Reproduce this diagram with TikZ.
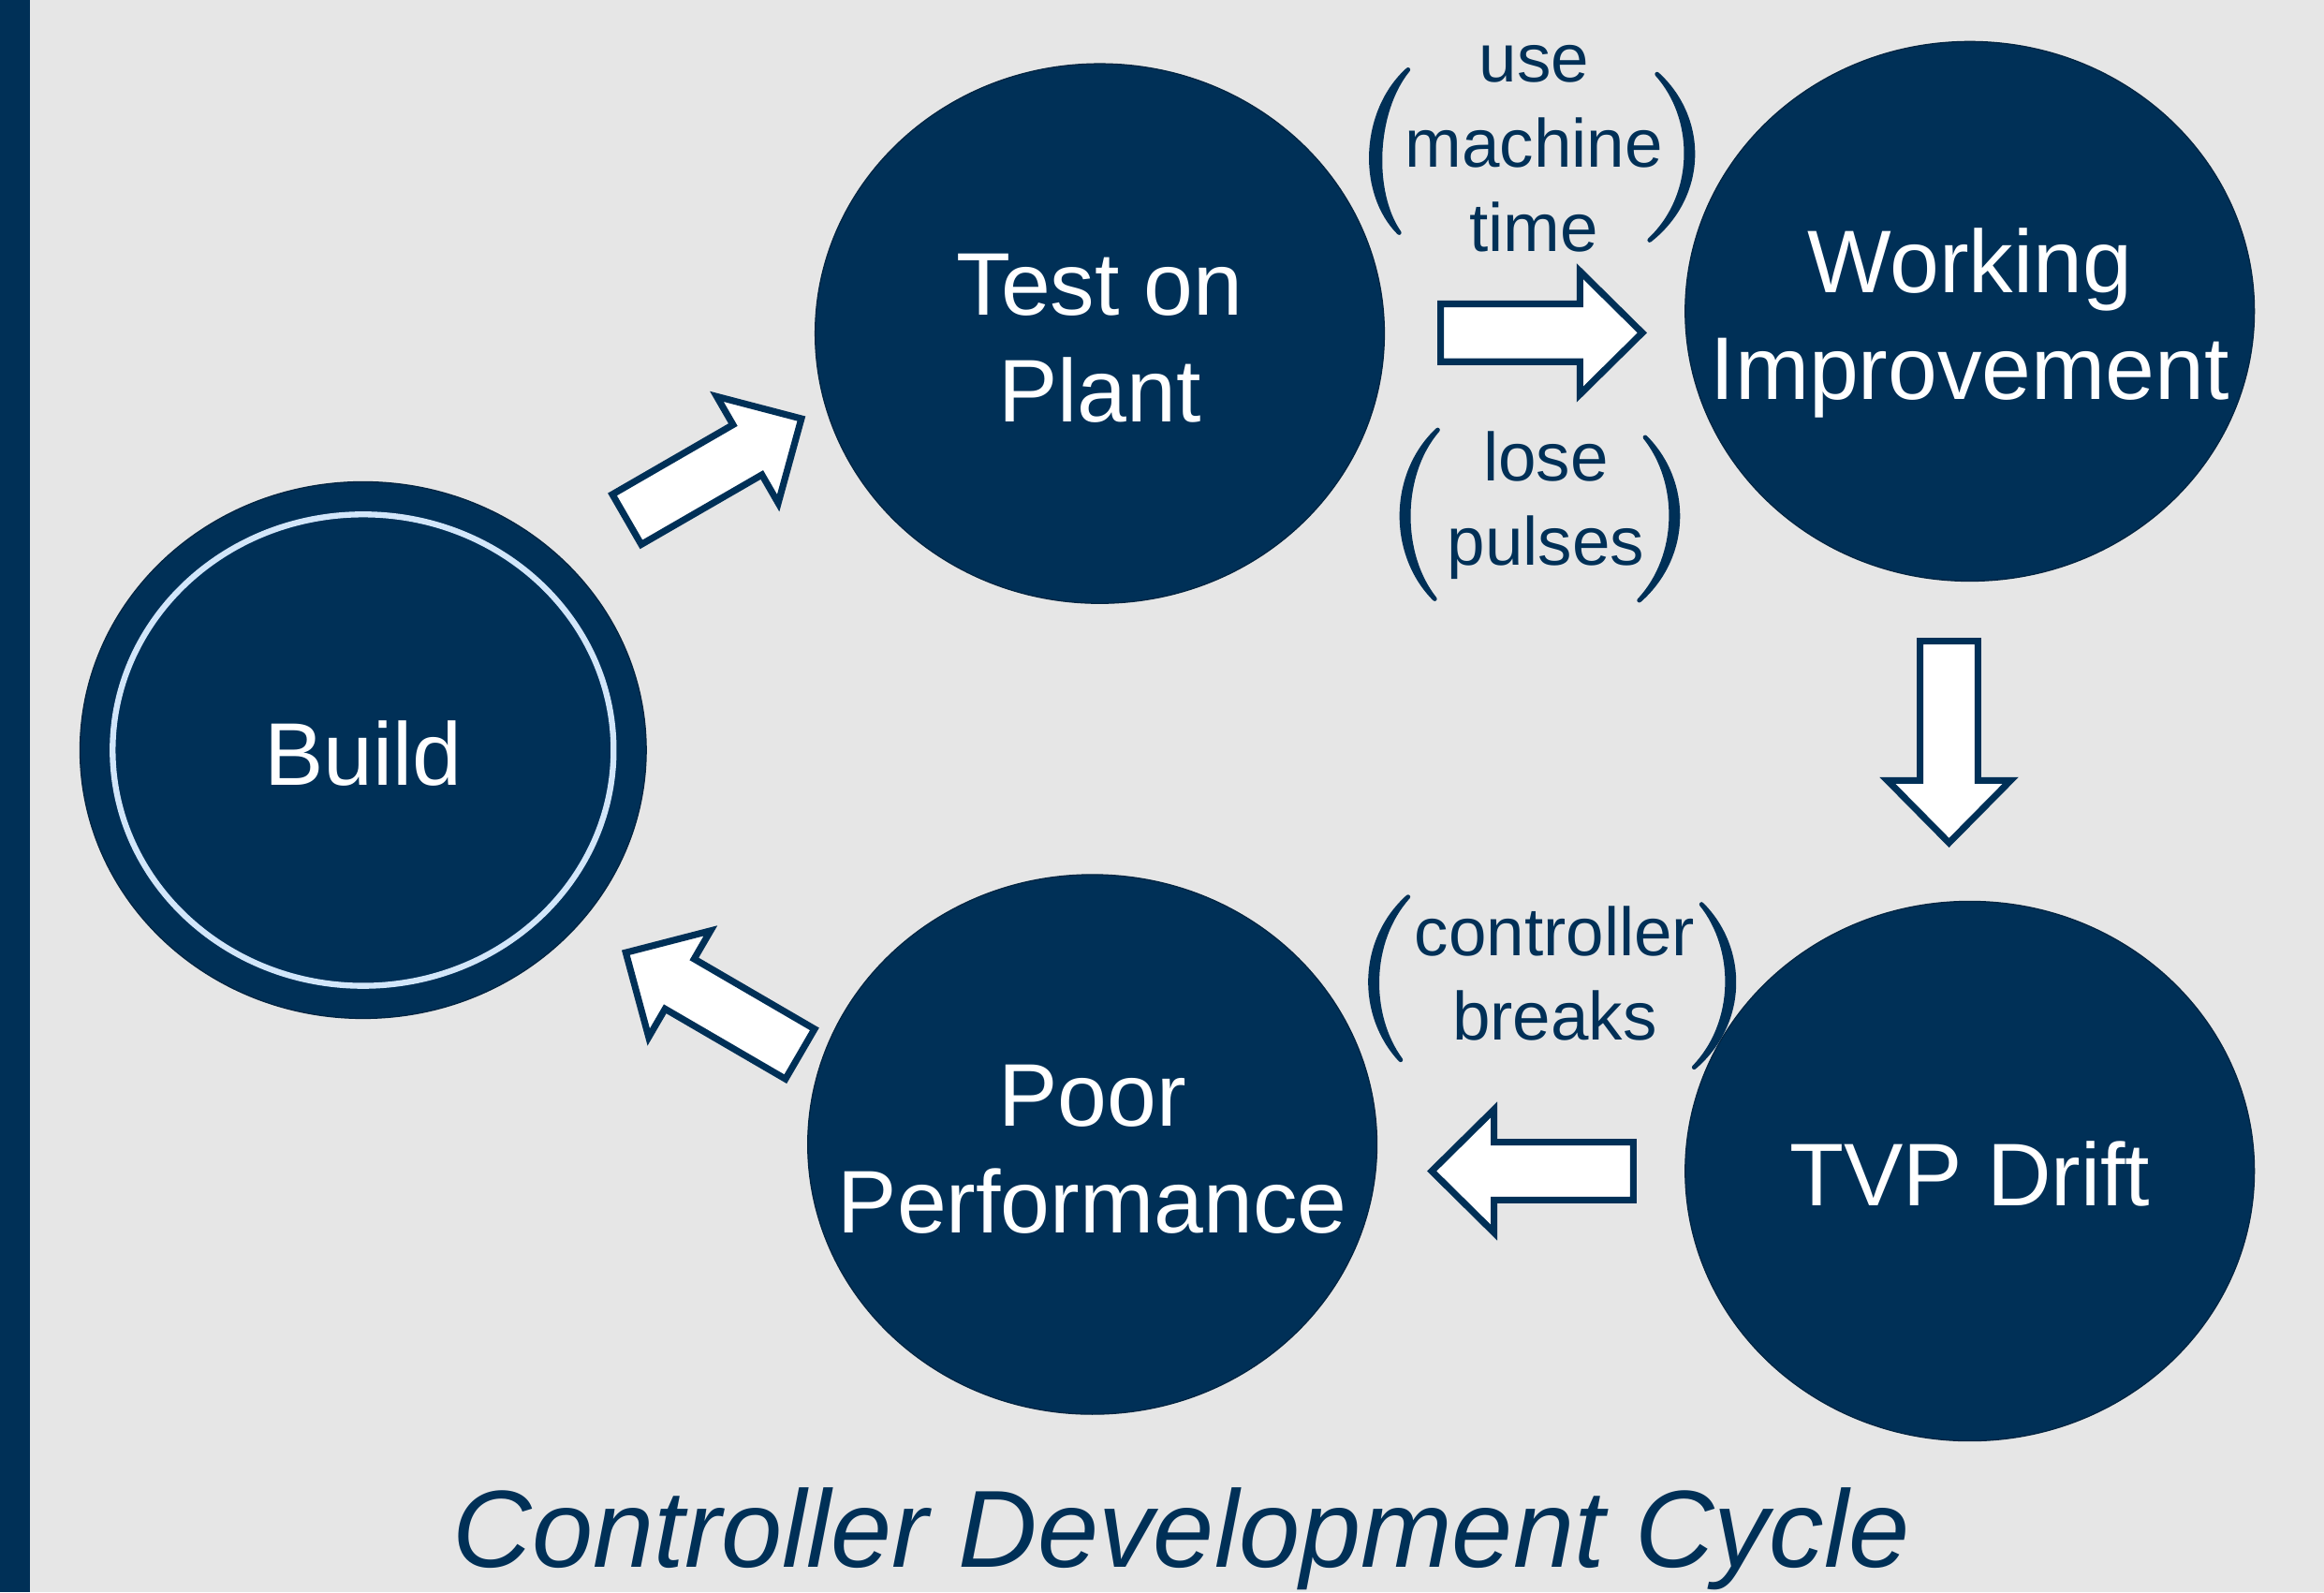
\documentclass[tikz,border=0pt]{standalone}
\usepackage{fontspec}
\setmainfont{Liberation Sans}
\usetikzlibrary{shapes.geometric}
\definecolor{navy}{RGB}{0,48,87}
\definecolor{bgray}{RGB}{230,230,230}
\definecolor{ringblue}{RGB}{210,230,250}
\newcommand\bstrut{\rule[-12.5pt]{0pt}{72pt}}
\newcommand\lstrut{\rule[-15pt]{0pt}{57pt}}
\begin{document}
\begin{tikzpicture}[x=1pt,y=-1pt,
  bubble/.style={ellipse, fill=navy, draw=navy!75!black, line width=0.8pt,
    minimum width=384pt, minimum height=364pt, inner sep=0pt},
  btext/.style={text=white, align=center, inner sep=0pt, font=\fontsize{60}{72}\selectfont},
  lbl/.style={text=navy, align=center, inner sep=0pt, font=\fontsize{46}{57}\selectfont},
  paren/.style={fill=navy, draw=navy, line width=3pt, line cap=round, line join=round},
  arrowbody/.style={fill=white, draw=navy, line width=4.5pt, line join=miter},
  blockarr/.pic={\path[arrowbody] (-68,-19.5) -- (26,-19.5) -- (26,-41.5) -- (68,0)
      -- (26,41.5) -- (26,19.5) -- (-68,19.5) -- cycle;}
]
\useasboundingbox (0,0) rectangle (1568,1074);
\fill[bgray] (0,0) rectangle (1568,1074);
\fill[navy] (0,0) rectangle (20,1074);

% bubbles
\node[bubble, minimum width=382pt, minimum height=362pt] (build) at (245,506) {};
\draw[ringblue, line width=4pt] (build.center) ellipse [x radius=169pt, y radius=159pt];
\node[btext] (buildt) at (build.center) {\bstrut Build};
\node[bubble] (test) at (742,225) {};
\node[btext] (testt) at (test.center) {\bstrut Test on\\\bstrut Plant};
\node[bubble] (work) at (1329,210) {};
\node[btext] (workt) at (work.center) {\bstrut Working\\\bstrut Improvement};
\node[bubble] (tvp) at (1329,790) {};
\node[btext] (tvpt) at (tvp.center) {\bstrut TVP Drift};
\node[bubble] (poor) at (737,772) {};
\node[btext] (poort) at (poor.center) {\bstrut Poor\\\bstrut Performance};

% block arrows
\pic[rotate=30] (a1) at (481.8,316.4) {blockarr};
\pic (a2) at (1040,224.5) {blockarr};
\pic[rotate=-90] (a3) at (1315,500.5) {blockarr};
\pic[rotate=180] (a4) at (1034,790) {blockarr};
\pic[rotate=149.8] (a5) at (481,676.8) {blockarr};

% labels
\node[lbl] (l1) at (1035,99) {\lstrut use\\\lstrut machine\\\lstrut time};
\node[lbl] (l2) at (1043,339.5) {\lstrut lose\\\lstrut pulses};
\node[lbl] (l3) at (1049,659.5) {\lstrut controller\\\lstrut breaks};

% parentheses
\filldraw[paren] (950,47) .. controls (919,75) and (917,130) .. (944,157)
   .. controls (925,130) and (927,75) .. cycle;
\filldraw[paren] (1118,50) .. controls (1151,80) and (1151,132) .. (1113,162)
   .. controls (1145,132) and (1145,80) .. cycle;
\filldraw[paren] (970,290) .. controls (938,320) and (938,374) .. (968,404)
   .. controls (944,374) and (944,320) .. cycle;
\filldraw[paren] (1110,295) .. controls (1140,325) and (1140,375) .. (1106,405)
   .. controls (1134,375) and (1134,325) .. cycle;
\filldraw[paren] (950,605) .. controls (917,635) and (917,685) .. (945,715)
   .. controls (923,685) and (923,635) .. cycle;
\filldraw[paren] (1148,610) .. controls (1178,640) and (1178,690) .. (1143,720)
   .. controls (1172,690) and (1172,640) .. cycle;

% title
\node[text=navy, inner sep=0pt, anchor=base, font=\fontsize{74}{88}\selectfont\itshape] (title) at (797,1057) {Controller Development Cycle};
\end{tikzpicture}
\end{document}
